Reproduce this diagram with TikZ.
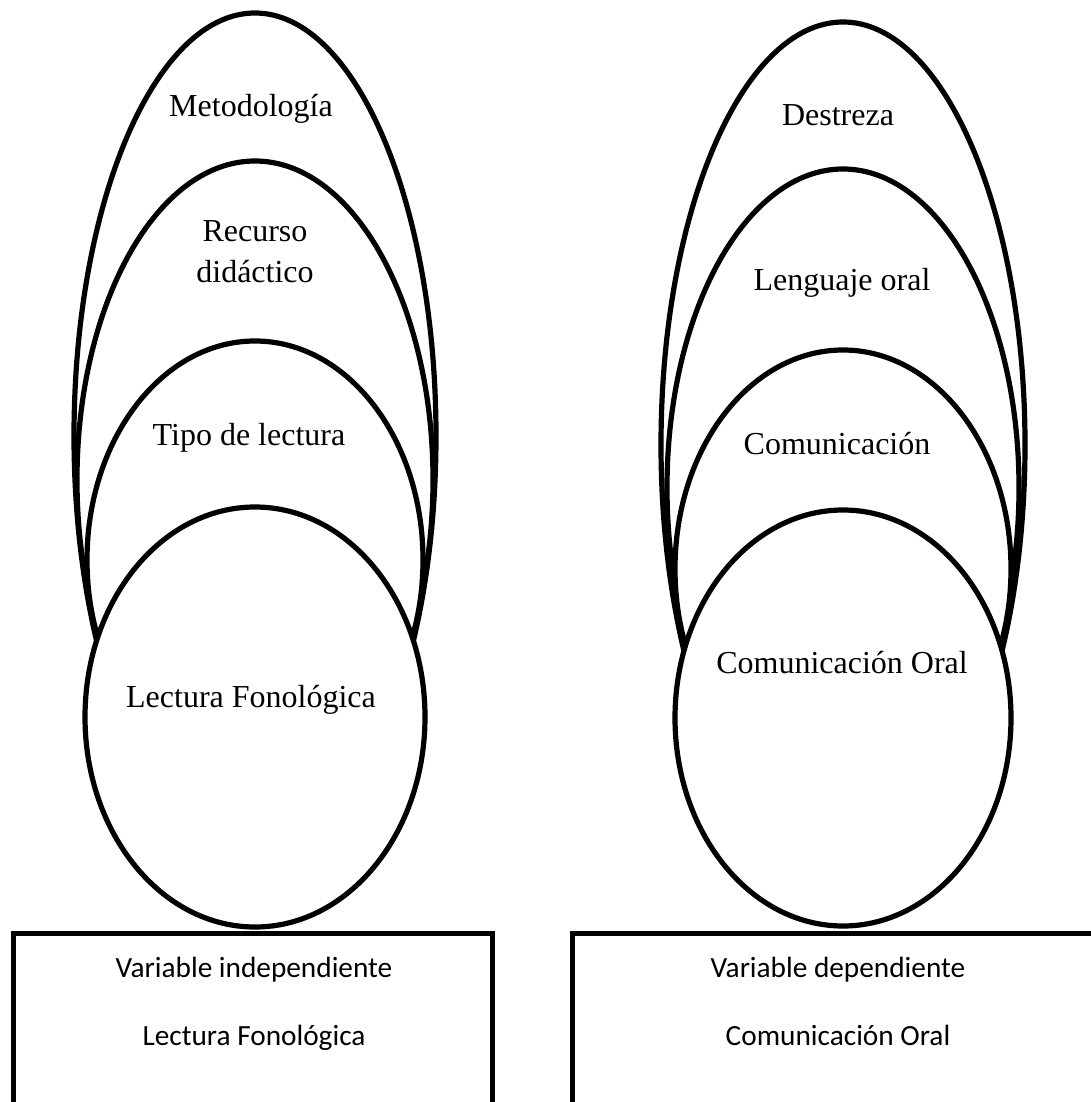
\documentclass[tikz,border=0pt]{standalone}
\usepackage{fontspec}
\setmainfont{Liberation Serif}
\newfontfamily\calibri{Carlito}

\begin{document}
\begin{tikzpicture}[x=1pt, y=-1pt,
    capa/.style={draw, line width=5.2pt, fill=white},
    caja/.style={draw, line width=5pt, line join=miter},
    etiqueta/.style={font=\fontsize{32}{41}\selectfont, inner sep=0pt, anchor=base},
    textocaja/.style={font=\calibri\fontsize{29.3}{36}\selectfont, inner sep=0pt, anchor=base}]
    \pgfmathsetmacro{\cxI}{255}     % centro grupo izquierdo
    \pgfmathsetmacro{\cxD}{843}     % centro grupo derecho
    \pgfmathsetmacro{\ytop}{933}    % borde superior de las cajas

    \useasboundingbox (0,0) rectangle (1091,1102);
    \clip (0,0) rectangle (1091,1102);

    % Elipses, de atras hacia adelante
    \foreach \cy/\rx/\ry in {436/181/423, 480/178/319, 560/168/219, 717/170/210}{
        \draw[capa] (\cxI,\cy) ellipse [x radius=\rx, y radius=\ry];
    }
    \foreach \cy/\rx/\ry in {445/182/423, 488/176/319, 569/168/219, 718/168/208}{
        \draw[capa] (\cxD,\cy) ellipse [x radius=\rx, y radius=\ry];
    }

    % Textos de las elipses
    \node[etiqueta] (metodologia) at (251,117) {Metodología};
    \node[etiqueta, anchor=center, align=center] (recurso) at (255,252) {Recurso\\didáctico};
    \node[etiqueta] (tipo) at (249,445) {Tipo de lectura};
    \node[etiqueta] (lecturaF) at (251,707) {Lectura Fonológica};

    \node[etiqueta] (destreza) at (838,126) {Destreza};
    \node[etiqueta] (lenguaje) at (842,290) {Lenguaje oral};
    \node[etiqueta] (comunicacion) at (837,454) {Comunicación};
    \node[etiqueta] (comOral) at (842,673) {Comunicación Oral};

    % Cajas de las variables (abiertas por abajo)
    \draw[caja] (13,1120) -- (13,\ytop) -- (492,\ytop) -- (492,1120);
    \draw[caja] (572,1120) -- (572,\ytop) -- (1110,\ytop);

    \node[textocaja] (varInd) at (254,977) {Variable independiente};
    \node[textocaja] (lecturaCaja) at (254,1045) {Lectura Fonológica};
    \node[textocaja] (varDep) at (838,977) {Variable dependiente};
    \node[textocaja] (comCaja) at (838,1045) {Comunicación Oral};
\end{tikzpicture}
\end{document}
